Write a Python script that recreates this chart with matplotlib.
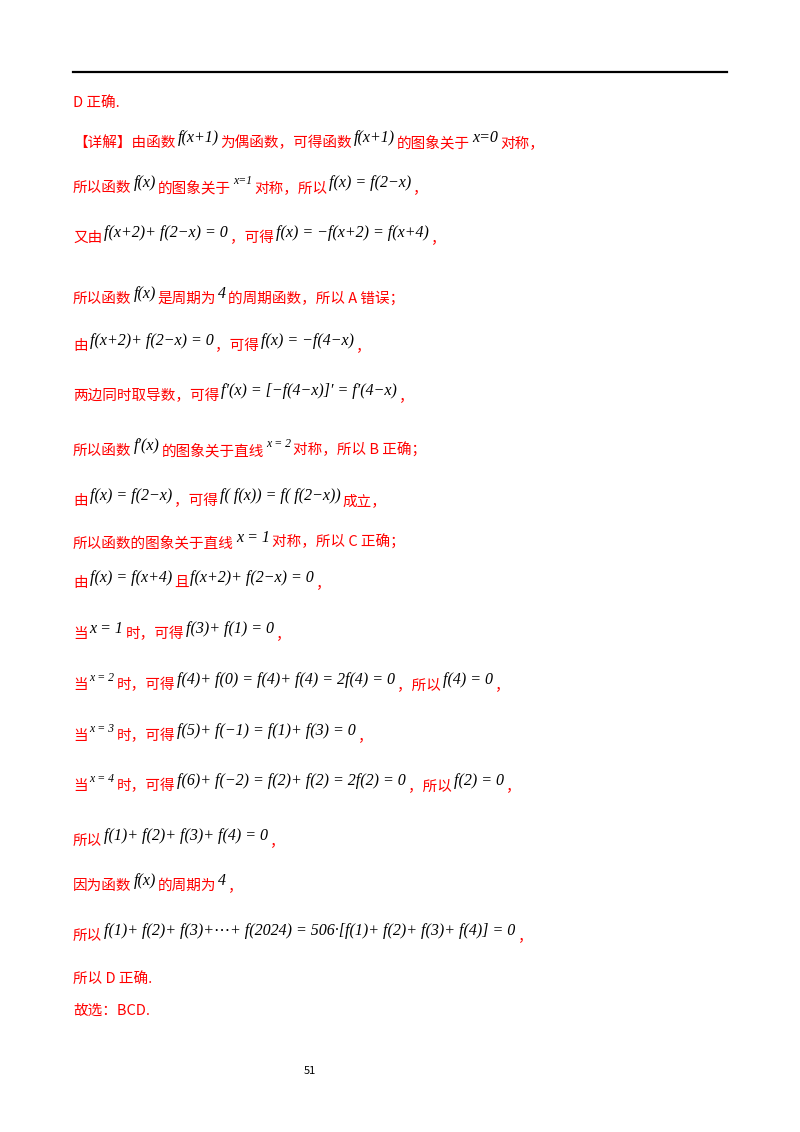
import matplotlib
matplotlib.use("Agg")
import matplotlib.pyplot as plt

W, H = 800, 1132
fig = plt.figure(figsize=(W/100, H/100), dpi=100)
R = "#ff0000"
CJK = ['Noto Sans CJK SC', 'DejaVu Sans']
SER = ['Liberation Serif', 'DejaVu Serif', 'DejaVu Sans']

lines = [
    (107, [("D 正确.", 'c')]),
    (147, [("【详解】由函数", 'c'), ("f(x+1)", 'm'), ("为偶函数，可得函数", 'c'), ("f(x+1)", 'm'),
           ("的图象关于", 'c'), ("x=0", 'm'), ("对称，", 'c')]),
    (192, [("所以函数", 'c'), ("f(x)", 'm'), ("的图象关于", 'c'), ("x=1", 'ms'), ("对称，所以", 'c'),
           ("f(x) = f(2−x)", 'm'), ("，", 'c')]),
    (242, [("又由", 'c'), ("f(x+2)+ f(2−x) = 0", 'm'), ("，可得", 'c'),
           ("f(x) = −f(x+2) = f(x+4)", 'm'), ("，", 'c')]),
    (303, [("所以函数", 'c'), ("f(x)", 'm'), ("是周期为", 'c'), ("4", 'm'), ("的周期函数，所以 A 错误；", 'c')]),
    (350, [("由", 'c'), ("f(x+2)+ f(2−x) = 0", 'm'), ("，可得", 'c'), ("f(x) = −f(4−x)", 'm'), ("，", 'c')]),
    (400, [("两边同时取导数，可得", 'c'), ("f′(x) = [−f(4−x)]′ = f′(4−x)", 'm'), ("，", 'c')]),
    (455, [("所以函数", 'c'), ("f′(x)", 'm'), ("的图象关于直线", 'c'), ("x = 2", 'ms'), ("对称，所以 B 正确；", 'c')]),
    (505, [("由", 'c'), ("f(x) = f(2−x)", 'm'), ("，可得", 'c'), ("f( f(x)) = f( f(2−x))", 'm'), ("成立，", 'c')]),
    (547, [("所以函数的图象关于直线", 'c'), ("x = 1", 'm'), ("对称，所以 C 正确；", 'c')]),
    (587, [("由", 'c'), ("f(x) = f(x+4)", 'm'), ("且", 'c'), ("f(x+2)+ f(2−x) = 0", 'm'), ("，", 'c')]),
    (638, [("当", 'c'), ("x = 1", 'm'), ("时，可得", 'c'), ("f(3)+ f(1) = 0", 'm'), ("，", 'c')]),
    (689, [("当", 'c'), ("x = 2", 'ms'), ("时，可得", 'c'), ("f(4)+ f(0) = f(4)+ f(4) = 2f(4) = 0", 'm'),
           ("，所以", 'c'), ("f(4) = 0", 'm'), ("，", 'c')]),
    (740, [("当", 'c'), ("x = 3", 'ms'), ("时，可得", 'c'), ("f(5)+ f(−1) = f(1)+ f(3) = 0", 'm'), ("，", 'c')]),
    (790, [("当", 'c'), ("x = 4", 'ms'), ("时，可得", 'c'), ("f(6)+ f(−2) = f(2)+ f(2) = 2f(2) = 0", 'm'),
           ("，所以", 'c'), ("f(2) = 0", 'm'), ("，", 'c')]),
    (845, [("所以", 'c'), ("f(1)+ f(2)+ f(3)+ f(4) = 0", 'm'), ("，", 'c')]),
    (890, [("因为函数", 'c'), ("f(x)", 'm'), ("的周期为", 'c'), ("4", 'm'), ("，", 'c')]),
    (940, [("所以", 'c'), ("f(1)+ f(2)+ f(3)+⋯+ f(2024) = 506·[f(1)+ f(2)+ f(3)+ f(4)] = 0", 'm'), ("，", 'c')]),
    (983, [("所以 D 正确.", 'c')]),
    (1015, [("故选：BCD.", 'c')]),
]

fig.add_artist(plt.Line2D([73/W, 727/W], [1-72/H, 1-72/H], color='black', lw=1.6))
fig.canvas.draw()
rend = fig.canvas.get_renderer()
for y, segs in lines:
    x = 73
    for s, k in segs:
        if k == 'c':
            t = fig.text(x/W, 1-y/H, s, color=R, fontsize=10.5, family=CJK, va='baseline')
        else:
            dy = 5 if k == 'm' else 8
            fs = 11.5 if k == 'm' else 8.5
            t = fig.text(x/W, 1-(y-dy)/H, s, color='black', fontsize=fs, family=SER,
                         style='italic', va='baseline')
        x += t.get_window_extent(rend).width + 2
fig.text(310/W, 1-1074/H, "51", fontsize=8, family=CJK, ha='center')
fig.savefig("out.png", dpi=100)
